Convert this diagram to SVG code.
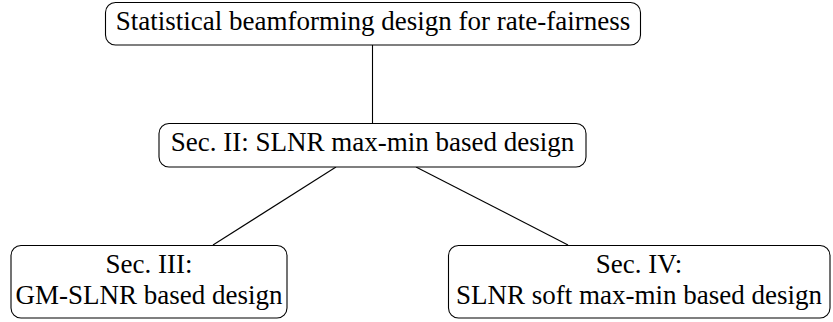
<svg xmlns="http://www.w3.org/2000/svg" width="833" height="322" viewBox="0 0 833 322">
  <style>
    .box { fill: #ffffff; stroke: #000000; stroke-width: 1.1; }
    .lbl { font-family: "Liberation Serif", "Times New Roman", serif; font-size: 27px; fill: #000000; text-anchor: middle; }
    .edge { stroke: #000000; stroke-width: 1.1; fill: none; }
  </style>
  <rect width="833" height="322" fill="#ffffff"/>
  <g id="connectors">
    <line class="edge" x1="372.5" y1="45" x2="372.5" y2="123"/>
    <line class="edge" x1="336" y1="167" x2="213" y2="245"/>
    <line class="edge" x1="416" y1="167" x2="568" y2="245"/>
  </g>
  <g id="root">
    <rect class="box" x="105.5" y="2.5" width="535" height="42.5" rx="10"/>
    <text class="lbl" x="373" y="30">Statistical beamforming design for rate-fairness</text>
  </g>
  <g id="sec2">
    <rect class="box" x="159" y="123.5" width="427" height="43.5" rx="10"/>
    <text class="lbl" x="372.5" y="151">Sec. II: SLNR max-min based design</text>
  </g>
  <g id="sec3">
    <rect class="box" x="11" y="245.5" width="276" height="72.5" rx="10"/>
    <text class="lbl" x="149" y="273">Sec. III:</text>
    <text class="lbl" x="149" y="304">GM-SLNR based design</text>
  </g>
  <g id="sec4">
    <rect class="box" x="448.5" y="245.5" width="381.5" height="72.5" rx="10"/>
    <text class="lbl" x="639" y="273">Sec. IV:</text>
    <text class="lbl" x="639" y="304">SLNR soft max-min based design</text>
  </g>
</svg>
